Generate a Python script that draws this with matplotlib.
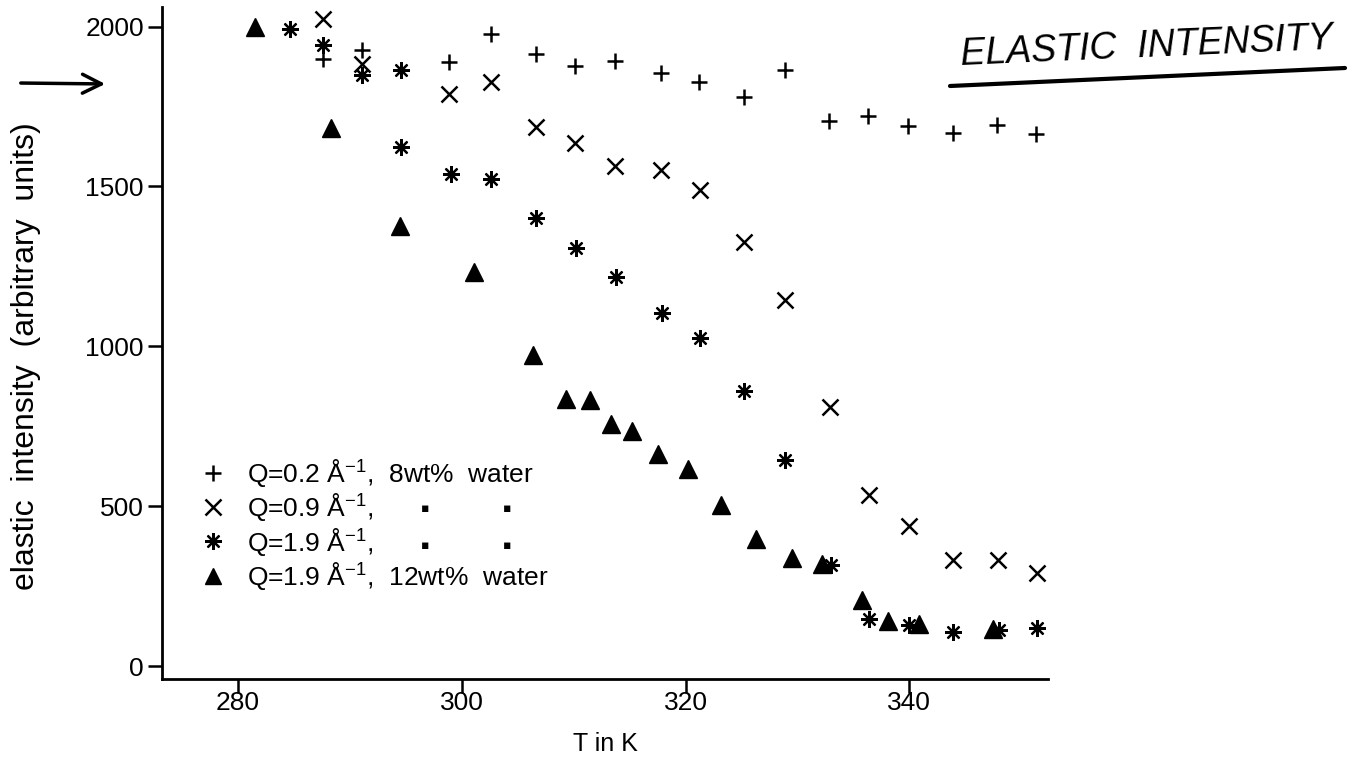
import matplotlib
matplotlib.use("Agg")
import matplotlib.pyplot as plt
from matplotlib.lines import Line2D

plt.rcParams['font.family'] = ['Liberation Sans', 'DejaVu Sans']
plt.rcParams['mathtext.default'] = 'regular'

# Q = 0.2 1/Angstrom, 8 wt% water
T_q02 = [287.6, 291.1, 298.9, 302.6, 306.6, 310.1, 313.7, 317.8, 321.2, 325.2,
         328.9, 332.8, 336.3, 339.9, 343.9, 347.8, 351.3]
I_q02 = [1900, 1927, 1889, 1977, 1915, 1878, 1892, 1854, 1826, 1781,
         1865, 1706, 1719, 1688, 1667, 1691, 1663]

# Q = 0.9 1/Angstrom, 8 wt% water
T_q09 = [287.6, 291.1, 298.9, 302.6, 306.6, 310.1, 313.7, 317.8, 321.3, 325.2,
         328.9, 332.9, 336.4, 340.0, 343.9, 347.9, 351.4]
I_q09 = [2024, 1884, 1788, 1826, 1686, 1636, 1563, 1550, 1488, 1327,
         1144, 810, 534, 437, 333, 333, 290]

# Q = 1.9 1/Angstrom, 8 wt% water
T_q19 = [284.6, 287.6, 291.1, 294.6, 294.6, 299.0, 302.6, 306.6, 310.2, 313.8,
         317.9, 321.3, 325.2, 328.9, 333.0, 336.4, 340.0, 343.9, 348.0, 351.4]
I_q19 = [1993, 1941, 1850, 1863, 1623, 1540, 1524, 1402, 1309, 1217,
         1105, 1027, 860, 644, 316, 149, 128, 107, 112, 118]

# Q = 1.9 1/Angstrom, 12 wt% water
T_q19w12 = [281.5, 288.3, 294.5, 301.1, 306.4, 309.3, 311.5, 313.3, 315.2, 317.5,
            320.2, 323.2, 326.3, 329.5, 332.2, 335.8, 338.1, 340.9, 347.5]
I_q19w12 = [1999, 1684, 1375, 1232, 972, 837, 831, 758, 735, 665,
            618, 503, 399, 337, 321, 208, 142, 131, 115]

x_ticks = [280, 300, 320, 340]
y_ticks = [0, 500, 1000, 1500, 2000]

labels = ["Q=0.2 Å$^{-1}$,  8wt%  water",
          "Q=0.9 Å$^{-1}$,",
          "Q=1.9 Å$^{-1}$,",
          "Q=1.9 Å$^{-1}$,  12wt%  water"]

fig = plt.figure(figsize=(13.51, 7.75), dpi=100)
ax = fig.add_axes([0.1199, 0.1239, 0.6558, 0.867])

k = 'black'
ax.plot(T_q02, I_q02, linestyle='none', marker='+', markersize=12,
        markeredgewidth=1.8, color=k)
ax.plot(T_q09, I_q09, linestyle='none', marker='x', markersize=11,
        markeredgewidth=1.8, color=k)
ax.plot(T_q19, I_q19, linestyle='none', marker=(8, 2, 0), markersize=12,
        markeredgewidth=1.6, color=k)
ax.plot(T_q19, I_q19, linestyle='none', marker='o', markersize=4.5, color=k)
ax.plot(T_q19w12, I_q19w12, linestyle='none', marker='^', markersize=12.5, color=k)

ax.set_xlim(273.2, 352.4)
ax.set_ylim(-40, 2061)
ax.set_xticks(x_ticks)
ax.set_yticks(y_ticks)

for s in ('top', 'right'):
    ax.spines[s].set_visible(False)
for s in ('left', 'bottom'):
    ax.spines[s].set_linewidth(2.0)

ax.tick_params(axis='both', direction='out', width=1.8, labelsize=19, length=10)
ax.tick_params(axis='x', pad=-1)
ax.tick_params(axis='y', pad=3)

ax.set_xlabel("T in K", fontsize=18, labelpad=12)
ax.set_ylabel("elastic  intensity  (arbitrary  units)", fontsize=23)
ax.yaxis.set_label_coords(-0.137, 0.48)

handles = [
    Line2D([], [], linestyle='none', marker='+', markersize=12, markeredgewidth=1.8, color=k),
    Line2D([], [], linestyle='none', marker='x', markersize=11, markeredgewidth=1.8, color=k),
    Line2D([], [], linestyle='none', marker=(8, 2, 0), markersize=12, markeredgewidth=1.6, color=k),
    Line2D([], [], linestyle='none', marker='^', markersize=12, color=k),
]
ax.legend(handles, labels, loc='upper left', bbox_to_anchor=(0.022, 0.358),
          frameon=False, fontsize=19, handlelength=1.0, handletextpad=0.8,
          labelspacing=0.09, borderpad=0.2)

# ditto marks under "8wt%" and "water"
for yy in (0.254, 0.199):
    for xx in (0.297, 0.390):
        ax.text(xx, yy, "▪", transform=ax.transAxes, fontsize=9,
                ha='center', va='center', family=['DejaVu Sans'])

# handwritten note with arrow and underline
fig.text(0.849, 0.940, "ELASTIC  INTENSITY", fontsize=27, style='italic',
         rotation=2.5, ha='center', va='center', family=['Liberation Sans'])
fig.add_artist(Line2D([950 / 1351, 1345 / 1351], [1 - 86 / 775, 1 - 68 / 775],
                      color=k, linewidth=3, solid_capstyle='round'))
ax.annotate("", xy=(108 / 1351, 1 - 84 / 775), xytext=(18 / 1351, 1 - 83 / 775),
            xycoords='figure fraction', textcoords='figure fraction',
            arrowprops=dict(arrowstyle='->', color=k, lw=2.5,
                            mutation_scale=34))

fig.savefig("out.png", dpi=100)
